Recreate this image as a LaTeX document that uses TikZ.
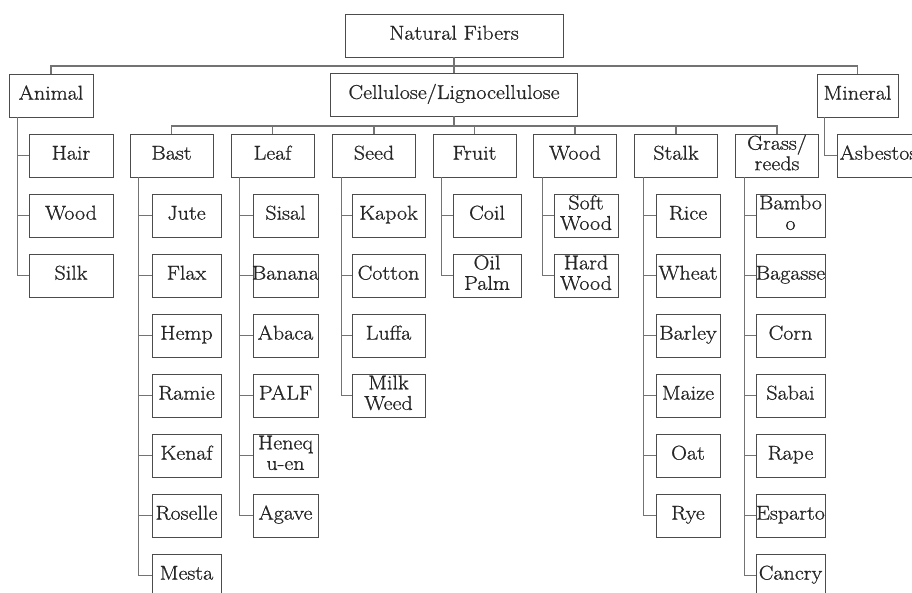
\documentclass[tikz,border=0pt]{standalone}
\usepackage{fontspec}
\newfontfamily\fibfont{Latin Modern Roman}[FakeBold=0.9, FakeStretch=1.1]
\tikzset{
  fib/.style={draw=black!70, line width=0.9pt, minimum height=43pt, inner sep=0pt,
    font=\fibfont\fontsize{20}{20.5}\selectfont, text=black!85},
  link/.style={draw=black!55, line width=1.1pt},
}
\newcommand{\lbl}[1]{\makebox[0pt]{\begin{tabular}{@{}c@{}}#1\end{tabular}}}
\begin{document}
\begin{tikzpicture}[x=1pt,y=-1pt]
  \useasboundingbox (0,0) rectangle (912,592);

  \node[fib, minimum width=218pt] (nat) at (454,35.5) {\lbl{Natural Fibers}};
  \node[fib, minimum width=84pt] (animal) at (51,95.5) {\lbl{Animal}};
  \node[fib, minimum width=247pt] (cell) at (454,94.5) {\lbl{Cellulose/Lignocellulose}};
  \node[fib, minimum width=81pt] (mineral) at (857.5,95.5) {\lbl{Mineral}};

  \coordinate (topbar) at (454,66);
  \draw[link] (nat.south) -- (cell.north);
  \draw[link] (animal.north) |- (topbar) -| (mineral.north);

  \foreach \t [count=\i from 0] in {Hair,Wood,Silk} {
    \node[fib, minimum width=84pt] (animal-\i) at (71,{155.5+60*\i}) {\lbl{\t}};
    \draw[link] ([xshift=9pt]animal.south west) |- (animal-\i.west);
  }

  \node[fib, minimum width=83pt] (asb) at (878.5,155.5) {\lbl{Asbestos}};
  \draw[link] ([xshift=8pt]mineral.south west) |- (asb.west);

  \coordinate (cellbar) at (454,126);
  \draw[link] (cell.south) -- (cellbar);
  \foreach \g/\cx/\kx/\kw/\lab/\items in {
      bast/171.5/186.5/69/Bast/{Jute,Flax,Hemp,Ramie,Kenaf,Roselle,Mesta},
      leaf/272.5/285.5/65/Leaf/{Sisal,Banana,Abaca,PALF,{Heneq\\u-en},Agave},
      seed/374/388.5/73/Seed/{Kapok,Cotton,Luffa,{Milk\\Weed}},
      fruit/474.5/487/68/Fruit/{Coil,{Oil\\Palm}},
      wood/575/586/64/Wood/{{Soft\\Wood},{Hard\\Wood}},
      stalk/676/688/64/Stalk/{Rice,Wheat,Barley,Maize,Oat,Rye},
      grass/777/790.5/69/{Grass/\\reeds}/{{Bambo\\o},Bagasse,Corn,Sabai,Rape,Esparto,Cancry}} {
    \node[fib, minimum width=83pt] (\g) at (\cx,155.5) {\lbl{\lab}};
    \draw[link] (cellbar) -| (\g.north);
    \foreach \t [count=\i] in \items {
      \node[fib, minimum width=\kw pt] (\g-\i) at (\kx,{155.5+60*\i}) {\lbl{\t}};
      \draw[link] ([xshift=9pt]\g.south west) |- (\g-\i.west);
    }
  }
\end{tikzpicture}
\end{document}
